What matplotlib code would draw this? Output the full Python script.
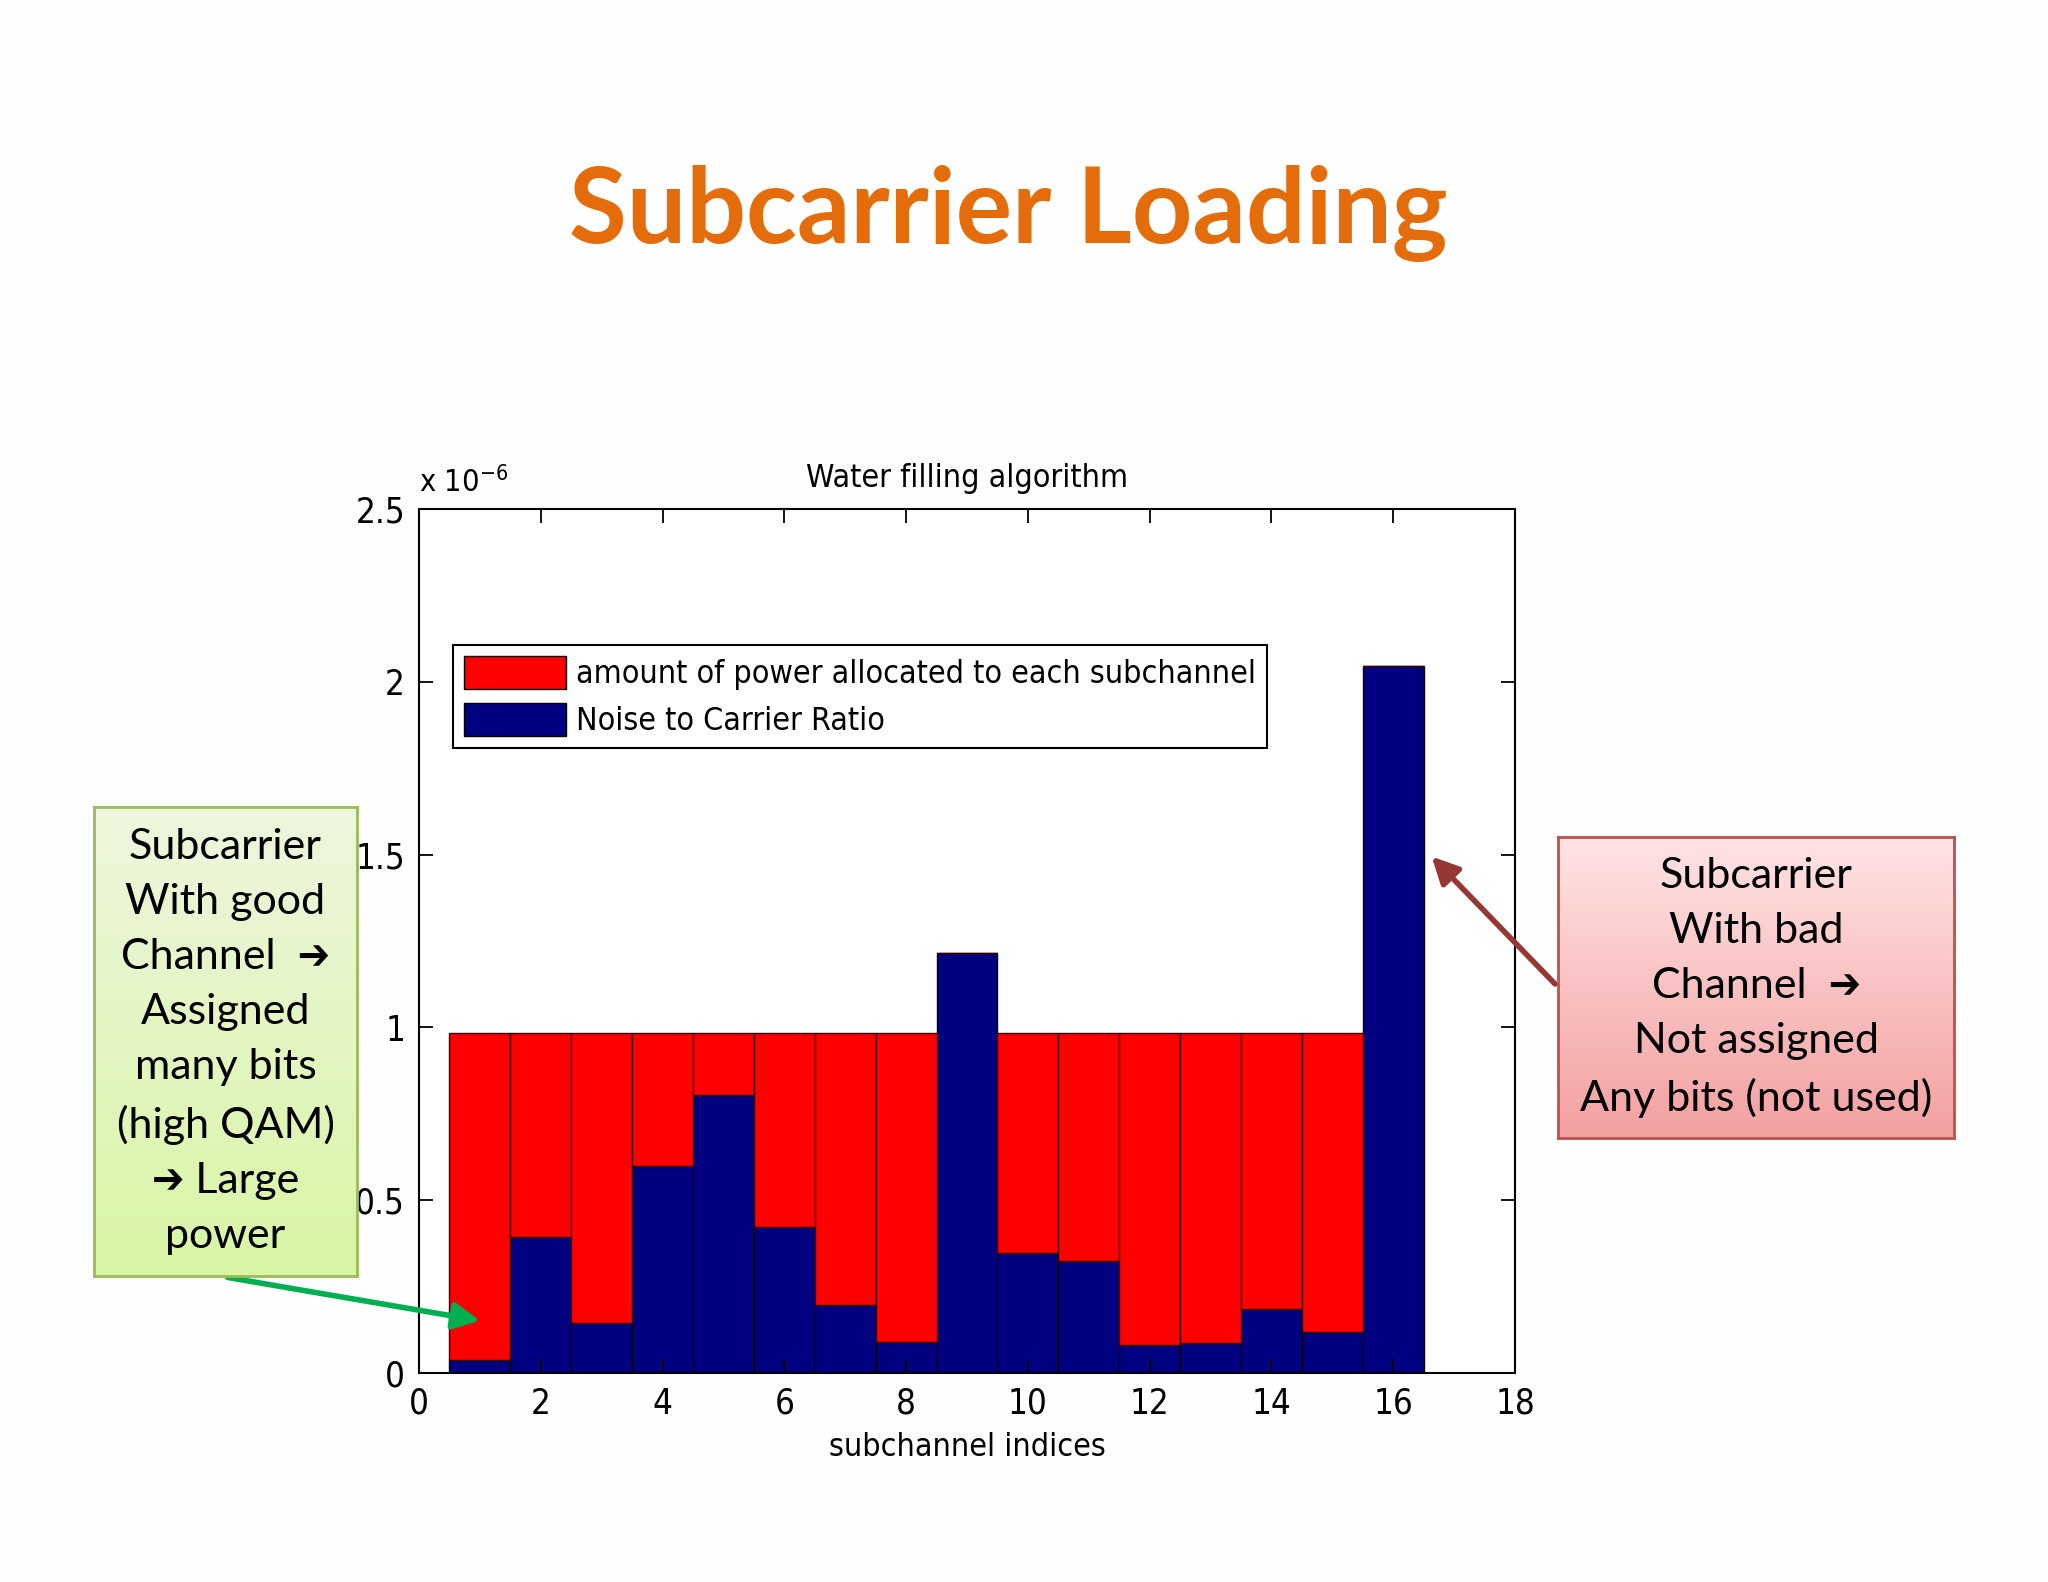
import numpy as np
import matplotlib
matplotlib.use("Agg")
import matplotlib.pyplot as plt
from matplotlib.patches import Patch

# values (units of 1e-6)
subchannels = np.arange(1, 17)
noise_to_carrier = [0.038, 0.394, 0.145, 0.599, 0.805, 0.423, 0.197, 0.089,
                    1.216, 0.347, 0.324, 0.082, 0.087, 0.184, 0.118, 2.045]
water_level = 0.985
power = [max(water_level - n, 0) for n in noise_to_carrier]

x_ticks = list(range(0, 19, 2))
y_ticks = [0, 0.5, 1, 1.5, 2, 2.5]
y_tick_labels = ["0", "0.5", "1", "1.5", "2", "2.5"]

legend_labels = ["amount of power allocated to each subchannel",
                 "Noise to Carrier Ratio"]
good_text = "Subcarrier\nWith good\nChannel  \u2794\nAssigned\nmany bits\n(high QAM)\n\u2794 Large\npower"
bad_text = "Subcarrier\nWith bad\nChannel  \u2794\nNot assigned\nAny bits (not used)"

plt.rcParams['font.family'] = ['DejaVu Sans']
plt.rcParams['font.stretch'] = 'condensed'
box_font = ['Lato', 'DejaVu Sans']

W, H = 2048, 1582
fig = plt.figure(figsize=(W / 100, H / 100), dpi=100)
fig.patch.set_facecolor('#fefefe')

fig.text(1008 / W, 1 - 213 / H, "Subcarrier Loading", color='#e46c0a',
         fontsize=76, fontweight='bold', family=box_font,
         ha='center', va='center')

# main plot
ax = fig.add_axes([419 / W, 1 - 1373 / H, (1515 - 419) / W, (1373 - 509) / H])
scale = 1e-6
noise = np.array(noise_to_carrier) * scale
pw = np.array(power) * scale
ax.bar(subchannels, noise, width=1, color='#000080', edgecolor='black', linewidth=1)
ax.bar(subchannels, pw, bottom=noise, width=1, color='#ff0000',
       edgecolor='#3a0000', linewidth=1)

ax.set_xlim(0, 18)
ax.set_ylim(0, 2.5e-6)
ax.set_xticks(x_ticks)
ax.set_yticks([v * scale for v in y_ticks])
ax.set_yticklabels(y_tick_labels)
ax.tick_params(direction='in', length=10, width=1.3, top=True, right=True,
               labelsize=25, pad=10)
for s in ax.spines.values():
    s.set_linewidth(1.5)
ax.text(0, 1.012, r"x 10$^{-6}$", transform=ax.transAxes, fontsize=22,
        ha='left', va='bottom')
ax.set_title("Water filling algorithm", fontsize=23, pad=16)
ax.set_xlabel("subchannel indices", fontsize=23, labelpad=8)

handles = [Patch(facecolor='#ff0000', edgecolor='black'),
           Patch(facecolor='#000080', edgecolor='black')]
leg = ax.legend(handles, legend_labels, loc='upper left',
                bbox_to_anchor=(0.031, 0.843), fontsize=23, fancybox=False,
                edgecolor='black', framealpha=1, handlelength=3.2,
                handleheight=1.2, handletextpad=0.3, borderpad=0.35,
                labelspacing=0.4, borderaxespad=0)
leg.get_frame().set_linewidth(1.5)


def gradient_box(x0, y0, x1, y1, top, bottom, edge, text, fs):
    bx = fig.add_axes([x0 / W, 1 - y1 / H, (x1 - x0) / W, (y1 - y0) / H])
    t = np.linspace(0, 1, 256)[:, None, None]
    img = np.array(top)[None, None, :] * (1 - t) + np.array(bottom)[None, None, :] * t
    bx.imshow(img / 255.0, aspect='auto', extent=[0, 1, 0, 1])
    bx.set_xticks([])
    bx.set_yticks([])
    for s in bx.spines.values():
        s.set_color(edge)
        s.set_linewidth(2)
    bx.text(0.5, 0.5, text, ha='center', va='center', fontsize=fs,
            family=box_font, linespacing=1.55, transform=bx.transAxes)
    return bx


gradient_box(94, 807, 357, 1276, (238, 246, 222), (216, 245, 165), '#9bbb59',
             good_text, 31)
gradient_box(1558, 837, 1954, 1138, (255, 228, 228), (243, 160, 160), '#c0504d',
             bad_text, 31)

# pointer arrows
ax.annotate("", xy=(1.05, 0.15e-6), xycoords='data',
            xytext=(225 / W, 1 - 1277 / H), textcoords='figure fraction',
            arrowprops=dict(arrowstyle='-|>', color='#00b050', lw=4,
                            mutation_scale=40), annotation_clip=False)
ax.annotate("", xy=(16.6, 1.5e-6), xycoords='data',
            xytext=(1557 / W, 1 - 986 / H), textcoords='figure fraction',
            arrowprops=dict(arrowstyle='-|>', color='#953735', lw=4,
                            mutation_scale=40), annotation_clip=False)

fig.savefig("out.png", dpi=100, facecolor=fig.get_facecolor())
